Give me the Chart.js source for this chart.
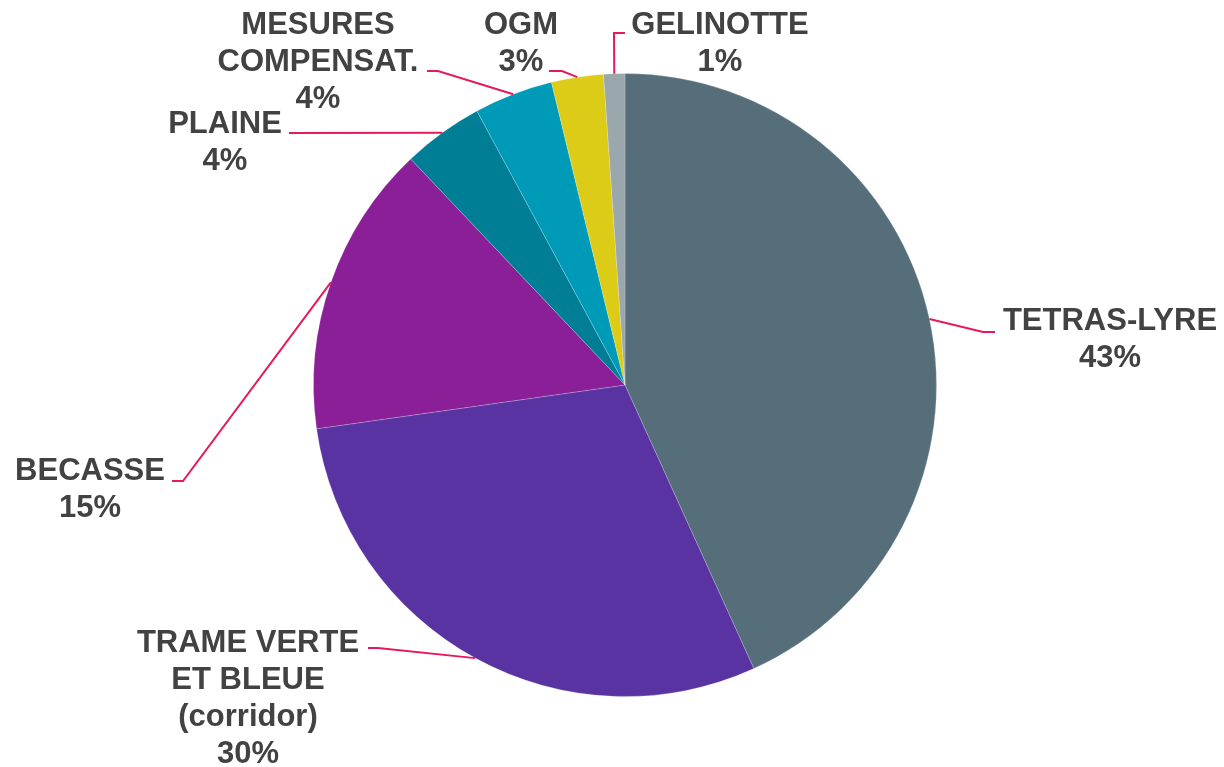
<!DOCTYPE html>
<html>
<head>
<meta charset="utf-8">
<script src="https://cdn.jsdelivr.net/npm/chart.js@4/dist/chart.umd.min.js"></script>
<style>
  html,body{margin:0;padding:0;background:#fff}
  #wrap{width:1224px;height:767px;position:relative}
</style>
</head>
<body>
<div id="wrap"><canvas id="pie"></canvas></div>
<script>
// Données (sens horaire depuis le haut)
var categories = ['TETRAS-LYRE', 'TRAME VERTE ET BLEUE (corridor)', 'BECASSE', 'PLAINE', 'MESURES COMPENSAT.', 'OGM', 'GELINOTTE'];
var values = [43.3, 29.6, 15.2, 4.2, 4.1, 2.7, 1.1];
var labelLines = [
  ['TETRAS-LYRE', '43%'],
  ['TRAME VERTE', 'ET BLEUE', '(corridor)', '30%'],
  ['BECASSE', '15%'],
  ['PLAINE', '4%'],
  ['MESURES', 'COMPENSAT.', '4%'],
  ['OGM', '3%'],
  ['GELINOTTE', '1%']
];
var colors = ['#566e7a', '#5933a1', '#8a1f98', '#007e96', '#009ab9', '#dccb17', '#9aa8ae'];

// Mise en page des étiquettes (coude du trait, fin du trait, centre du texte)
var labelLayout = [
  {elbow:[983,332], end:[995,332], text:[1110,321]},
  {elbow:[378,648], end:[368,648], text:[248,643]},
  {elbow:[183,481], end:[172,481], text:[90,471]},
  {elbow:[289,133], end:[289,133], text:[225,124]},
  {elbow:[438,71],  end:[427,71],  text:[318,25]},
  {elbow:[562,71],  end:[549,71],  text:[521,25]},
  {elbow:[614,33],  end:[625,33],  text:[720,25]}
];
var LINE_H = 37;

var leaderPlugin = {
  id: 'leaders',
  afterDatasetsDraw: function(chart){
    var ctx = chart.ctx;
    var meta = chart.getDatasetMeta(0);
    ctx.save();
    meta.data.forEach(function(arc, i){
      var p = arc.getProps(['x','y','startAngle','endAngle','outerRadius'], true);
      var mid = (p.startAngle + p.endAngle) / 2;
      var sx = p.x + Math.cos(mid) * p.outerRadius;
      var sy = p.y + Math.sin(mid) * p.outerRadius;
      var L = labelLayout[i];
      ctx.strokeStyle = '#e5195e';
      ctx.lineWidth = 2;
      ctx.beginPath();
      ctx.moveTo(sx, sy);
      ctx.lineTo(L.elbow[0], L.elbow[1]);
      ctx.lineTo(L.end[0], L.end[1]);
      ctx.stroke();

      ctx.fillStyle = '#424242';
      ctx.font = 'bold 31px "Liberation Sans", Arial, sans-serif';
      ctx.textAlign = 'center';
      ctx.textBaseline = 'middle';
      labelLines[i].forEach(function(t, k){
        ctx.fillText(t, L.text[0], L.text[1] + k * LINE_H);
      });
    });
    ctx.restore();
  }
};

new Chart(document.getElementById('pie').getContext('2d'), {
  type: 'pie',
  data: {
    labels: categories,
    datasets: [{
      data: values,
      backgroundColor: colors,
      borderColor: 'rgba(255,255,255,0.2)',
      borderWidth: 1
    }]
  },
  options: {
    responsive: true,
    maintainAspectRatio: false,
    animation: false,
    layout: { padding: { left: 313, right: 287, top: 73, bottom: 70 } },
    plugins: {
      legend: { display: false },
      tooltip: { enabled: false }
    }
  },
  plugins: [leaderPlugin]
});
</script>
</body>
</html>
